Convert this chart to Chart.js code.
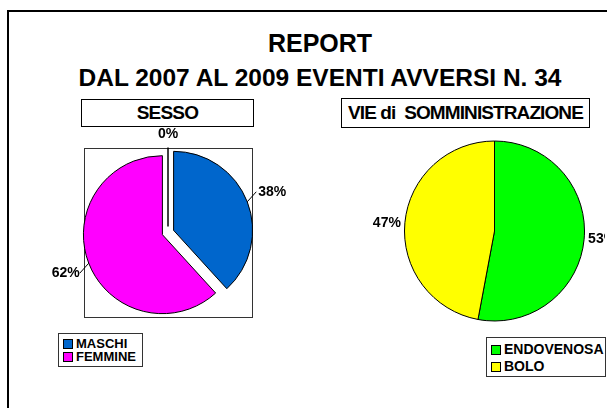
<!DOCTYPE html>
<html>
<head>
<meta charset="utf-8">
<script src="https://cdn.jsdelivr.net/npm/chart.js@4.4.1/dist/chart.umd.min.js"></script>
<style>
  html, body { margin:0; padding:0; background:#fff; overflow:hidden; }
  body { font-family:"Liberation Sans", Arial, sans-serif; font-weight:bold; color:#000; }
  #page { position:relative; width:607px; height:408px; overflow:hidden; }
  #frame { position:absolute; left:7px; top:10px; width:598px; height:396px; border-left:2px solid #000; border-top:2px solid #000; }
  .t { position:absolute; left:0; width:607px; padding-left:33px; box-sizing:border-box; text-align:center; white-space:nowrap; }
  .box { position:absolute; border:1px solid #000; box-sizing:border-box; text-align:center; white-space:nowrap; }
  .leg { position:absolute; border:1px solid #333; box-sizing:border-box; background:#fff; }
  .leg div { position:absolute; white-space:nowrap; }
  .leg span { display:inline-block; width:8px; height:8px; border:1px solid #000; margin-right:3px; vertical-align:-1px; }
  canvas { position:absolute; }
</style>
</head>
<body>
<div id="page">
  <div id="frame"></div>
  <div class="t" style="top:29px;font-size:25px;">REPORT</div>
  <div class="t" style="top:64px;font-size:24.5px;">DAL 2007 AL 2009 EVENTI AVVERSI N. 34</div>
  <div class="box" style="left:81px;top:99px;width:173px;height:28px;font-size:19px;line-height:26px;letter-spacing:-0.8px;">SESSO</div>
  <div class="box" style="left:341px;top:98px;width:249px;height:30px;font-size:19px;line-height:28px;letter-spacing:-0.9px;">VIE di&nbsp; SOMMINISTRAZIONE</div>
  <canvas id="c1" width="280" height="220" style="left:30px;top:120px;"></canvas>
  <canvas id="c2" width="245" height="210" style="left:360px;top:125px;"></canvas>
  <div class="leg" id="leg1" style="left:58px;top:333px;width:85px;height:34px;font-size:13px;"></div>
  <div class="leg" id="leg2" style="left:486px;top:337px;width:120px;height:40px;font-size:14px;"></div>
</div>
<script>
// SESSO
const sexLabels = ['MASCHI', 'FEMMINE', 'ND'];
const sexValues = [13, 21, 0];
const sexColors = ['#0066CC', '#FF00FF', '#FFFFFF'];

// VIE di SOMMINISTRAZIONE
const routeLabels = ['ENDOVENOSA', 'BOLO'];
const routeValues = [18, 16];
const routeColors = ['#00FF00', '#FFFF00'];

Chart.defaults.font.family = '"Liberation Sans", Arial, sans-serif';

// exploded slices: shift each arc along its mid angle
const explodePlugin = {
  id: 'explode',
  afterDatasetsUpdate(chart, args, opts) {
    const d = opts.distance || 0;
    if (!d) return;
    chart.getDatasetMeta(0).data.forEach(arc => {
      if (arc._wrapped) return;
      const orig = arc.draw;
      arc.draw = function (ctx) {
        const mid = (this.startAngle + this.endAngle) / 2;
        ctx.save();
        ctx.translate(Math.cos(mid) * d, Math.sin(mid) * d);
        orig.call(this, ctx);
        ctx.restore();
      };
      arc._wrapped = true;
    });
  },
  afterDatasetsDraw(chart, args, opts) {
    // zero-size slices are drawn as a single radius line
    const d = opts.distance || 0;
    const ctx = chart.ctx;
    const data = chart.data.datasets[0].data;
    chart.getDatasetMeta(0).data.forEach((arc, i) => {
      if (data[i] !== 0) return;
      const a = arc.startAngle;
      ctx.save();
      ctx.strokeStyle = '#000';
      ctx.lineWidth = 1.5;
      ctx.beginPath();
      ctx.moveTo(arc.x + Math.cos(a) * d, arc.y + Math.sin(a) * d);
      ctx.lineTo(arc.x + Math.cos(a) * (d + arc.outerRadius), arc.y + Math.sin(a) * (d + arc.outerRadius));
      ctx.stroke();
      ctx.restore();
    });
  }
};

const framePlugin = {
  id: 'frame',
  beforeDraw(chart, args, opts) {
    if (!opts.show) return;
    const a = chart.chartArea, ctx = chart.ctx;
    ctx.save();
    ctx.strokeStyle = '#333';
    ctx.lineWidth = 1;
    ctx.strokeRect(Math.round(a.left) + 0.5, Math.round(a.top) + 0.5, Math.round(a.width), Math.round(a.height));
    ctx.restore();
  }
};

const pctPlugin = {
  id: 'pct',
  afterDraw(chart, args, opts) {
    const ctx = chart.ctx;
    const data = chart.data.datasets[0].data;
    const total = data.reduce((s, v) => s + v, 0);
    const d = (chart.options.plugins.explode && chart.options.plugins.explode.distance) || 0;
    ctx.save();
    ctx.font = 'bold ' + opts.size + 'px "Liberation Sans", Arial, sans-serif';
    ctx.fillStyle = '#000';
    ctx.strokeStyle = '#000';
    ctx.lineWidth = 1;
    chart.getDatasetMeta(0).data.forEach((arc, i) => {
      const mid = (arc.startAngle + arc.endAngle) / 2;
      const dx = Math.cos(mid), dy = Math.sin(mid);
      const r = arc.outerRadius + d;
      const ax = arc.x + dx * r, ay = arc.y + dy * r;
      const txt = Math.round(data[i] / total * 100) + '%';
      if (Math.abs(dx) < 0.2) {
        ctx.textAlign = 'center';
        ctx.textBaseline = 'middle';
        ctx.fillText(txt, ax, ay + (dy < 0 ? -13 : 13));
        return;
      }
      const sx = dx > 0 ? 1 : -1;
      ctx.textBaseline = 'middle';
      ctx.textAlign = sx > 0 ? 'left' : 'right';
      if (opts.leader) {
        const sy = dy > 0 ? 1 : -1;
        const bx = ax + 9 * sx, by = ay + 10 * sy;
        ctx.beginPath();
        ctx.moveTo(ax, ay);
        ctx.lineTo(bx, by);
        ctx.stroke();
        ctx.fillText(txt, bx + (sx > 0 ? 2 : 0), by);
      } else {
        ctx.fillText(txt, ax + 4 * sx, ay);
      }
    });
    ctx.restore();
  }
};

new Chart(document.getElementById('c1'), {
  type: 'pie',
  data: {
    labels: sexLabels,
    datasets: [{ data: sexValues, backgroundColor: sexColors, borderColor: '#000', borderWidth: 1 }]
  },
  options: {
    responsive: false,
    animation: false,
    radius: 79,
    layout: { padding: { left: 54, top: 28, right: 58, bottom: 23 } },
    plugins: {
      legend: { display: false },
      tooltip: { enabled: false },
      explode: { distance: 6 },
      frame: { show: true },
      pct: { size: 14, leader: true }
    }
  },
  plugins: [explodePlugin, framePlugin, pctPlugin]
});

new Chart(document.getElementById('c2'), {
  type: 'pie',
  data: {
    labels: routeLabels,
    datasets: [{ data: routeValues, backgroundColor: routeColors, borderColor: '#000', borderWidth: 1 }]
  },
  options: {
    responsive: false,
    animation: false,
    radius: 90,
    layout: { padding: { left: 44, top: 16, right: 20, bottom: 14 } },
    plugins: {
      legend: { display: false },
      tooltip: { enabled: false },
      pct: { size: 14, leader: false }
    }
  },
  plugins: [pctPlugin]
});

// legends built from the same arrays
function buildLegend(el, labels, colors, values, top0, step) {
  labels.forEach((lab, i) => {
    if (values[i] === 0) return;
    const row = document.createElement('div');
    row.style.left = '4px';
    row.style.top = (top0 + i * step) + 'px';
    row.innerHTML = '<span style="background:' + colors[i] + '"></span>' + lab;
    el.appendChild(row);
  });
}
buildLegend(document.getElementById('leg1'), sexLabels, sexColors, sexValues, 2, 13);
buildLegend(document.getElementById('leg2'), routeLabels, routeColors, routeValues, 3, 17);
</script>
</body>
</html>
